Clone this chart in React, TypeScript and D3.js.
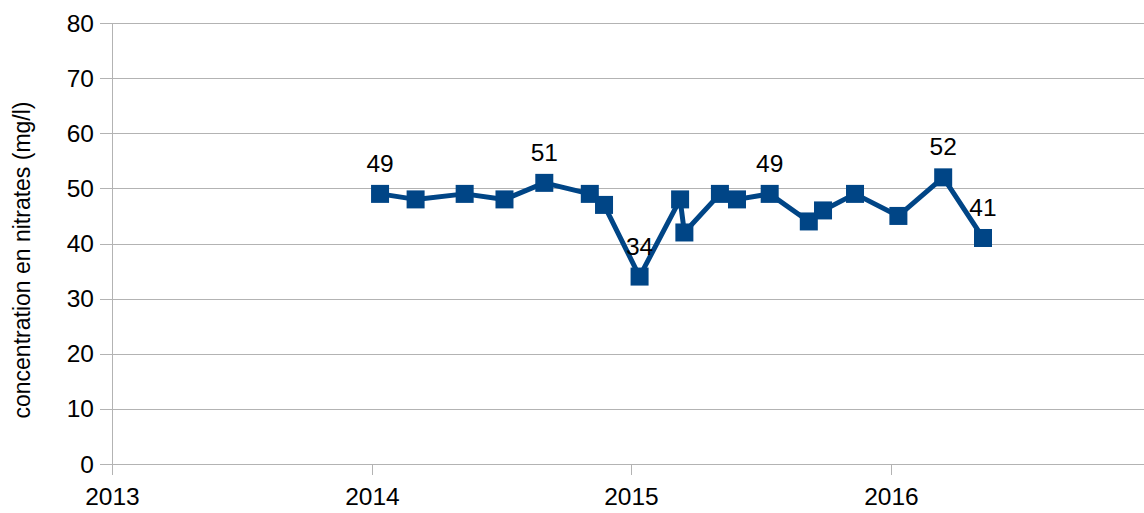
import React from "react";
import * as d3 from "d3";

const dates: string[] = [
  "2014-01-13", "2014-03-04", "2014-05-12", "2014-07-07", "2014-09-01",
  "2014-11-04", "2014-11-24", "2015-01-13", "2015-03-11", "2015-03-17",
  "2015-05-06", "2015-05-30", "2015-07-15", "2015-09-08", "2015-09-28",
  "2015-11-12", "2016-01-12", "2016-03-15", "2016-05-10",
];
const values: number[] = [49, 48, 49, 48, 51, 49, 47, 34, 48, 42, 49, 48, 49, 44, 46, 49, 45, 52, 41];
const labelledIdx: number[] = [0, 4, 7, 12, 17, 18];
const yTicks: number[] = [0, 10, 20, 30, 40, 50, 60, 70, 80];
const xTickYears: number[] = [2013, 2014, 2015, 2016];
const yTitle = "concentration en nitrates (mg/l)";

const W = 1144;
const H = 513;
const left = 112;
const top = 23;
const bottom = 464;
const COLOR = "#004586";
const FONT = "'Liberation Sans', Arial, sans-serif";

export default function App() {
  const x = d3
    .scaleTime()
    .domain([new Date(2013, 0, 1), new Date(2017, 0, 1)])
    .range([left, left + 4 * 259.7]);
  const y = d3.scaleLinear().domain([0, 80]).range([bottom, top]);
  const pts = dates.map((d, i) => ({ d: d3.timeParse("%Y-%m-%d")(d) as Date, v: values[i] }));
  const line = d3
    .line<{ d: Date; v: number }>()
    .x((p) => x(p.d))
    .y((p) => y(p.v));
  const ms = 18;
  return (
    <div style={{ position: "absolute", left: 0, top: 0 }}>
      <svg width={W} height={H} style={{ display: "block" }} fontFamily={FONT}>
        <rect width={W} height={H} fill="#fff" />
        {yTicks.map((t) => (
          <g key={t}>
            <line
              x1={100}
              x2={W}
              y1={Math.round(y(t)) + 0.5}
              y2={Math.round(y(t)) + 0.5}
              stroke="#b3b3b3"
              strokeWidth={1}
            />
            <text x={94} y={y(t)} dy="0.35em" textAnchor="end" fontSize={24.5} fill="#000">
              {t}
            </text>
          </g>
        ))}
        <line x1={left + 0.5} x2={left + 0.5} y1={top} y2={475} stroke="#b3b3b3" strokeWidth={1} />
        {xTickYears.map((yr) => {
          const xp = Math.round(x(new Date(yr, 0, 1))) + 0.5;
          return (
            <g key={yr}>
              <line x1={xp} x2={xp} y1={bottom} y2={475} stroke="#b3b3b3" strokeWidth={1} />
              <text x={xp} y={505} textAnchor="middle" fontSize={24.5} fill="#000">
                {yr}
              </text>
            </g>
          );
        })}
        <text
          transform={`translate(30,260) rotate(-90)`}
          textAnchor="middle"
          fontSize={23}
          fill="#000"
        >
          {yTitle}
        </text>
        <path d={line(pts) || ""} fill="none" stroke={COLOR} strokeWidth={5} strokeLinejoin="round" />
        {pts.map((p, i) => (
          <rect key={i} x={x(p.d) - ms / 2} y={y(p.v) - ms / 2} width={ms} height={ms} fill={COLOR} />
        ))}
        {labelledIdx.map((i) => (
          <text
            key={i}
            x={x(pts[i].d)}
            y={y(pts[i].v) - 22}
            textAnchor="middle"
            fontSize={24.5}
            fill="#000"
          >
            {values[i]}
          </text>
        ))}
      </svg>
    </div>
  );
}
